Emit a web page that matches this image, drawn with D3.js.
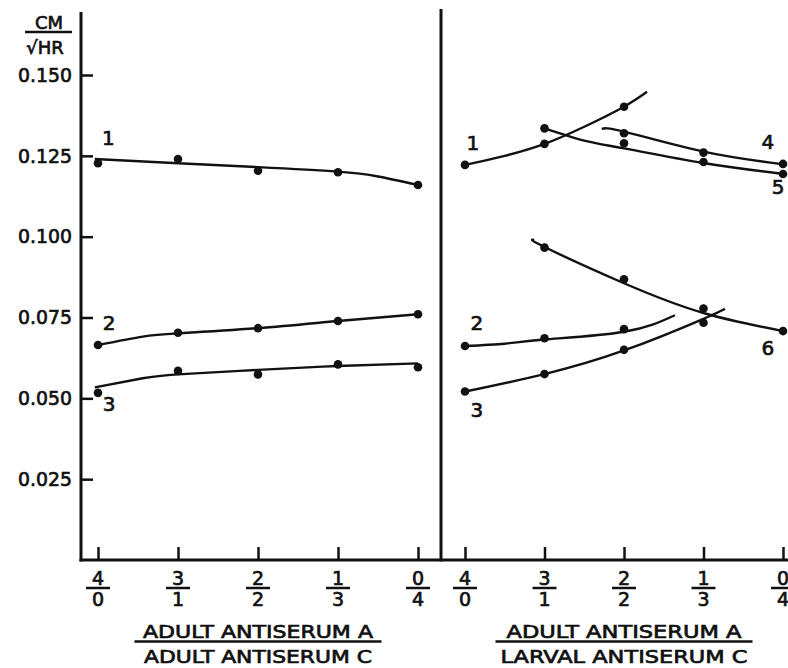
<!DOCTYPE html>
<html>
<head>
<meta charset="utf-8">
<script src="https://cdn.jsdelivr.net/npm/d3@7"></script>
<style>
  html, body { margin: 0; padding: 0; background: #ffffff; }
  svg { display: block; }
  text { font-family: "DejaVu Sans", sans-serif; fill: #111; }
  .heavy { stroke: #111; stroke-width: 0.7px; }
</style>
</head>
<body>
<svg id="chart" width="788" height="668"></svg>
<script>
// ---- data ----
// mixing ratios on both x axes (index 0..4)
const ratioNumer = ["4", "3", "2", "1", "0"];
const ratioDenom = ["0", "1", "2", "3", "4"];
const yTicks = [0.025, 0.050, 0.075, 0.100, 0.125, 0.150];

// left panel: adult A / adult C
const leftPoints1 = [0.1227, 0.1240, 0.1204, 0.1199, 0.1160];
const leftPoints2 = [0.0665, 0.0703, 0.0717, 0.0739, 0.0760];
const leftPoints3 = [0.0517, 0.0585, 0.0574, 0.0605, 0.0596];
// hand drawn curves, [ratio index, value]
const leftCurve1 = [[-0.04, 0.1240], [1, 0.1227], [2, 0.1215], [3, 0.1201], [3.5, 0.1186], [4, 0.1160]];
const leftCurve2 = [[0, 0.0665], [0.56, 0.0691], [1, 0.0701], [2, 0.0717], [3, 0.0739], [4, 0.0760]];
const leftCurve3 = [[-0.04, 0.0534], [0.56, 0.0562], [1, 0.0574], [2, 0.0588], [3, 0.0600], [4, 0.0608]];

// right panel: adult A / larval C  (points as [ratio index, value])
const rightPoints1 = [[0, 0.1222], [1, 0.1287], [2, 0.1402]];
const rightPoints2 = [[0, 0.0662], [1, 0.0686], [2, 0.0714]];
const rightPoints3 = [[0, 0.0521], [1, 0.0575], [2, 0.0650], [3, 0.0734]];
const rightPoints4 = [[2, 0.1320], [3, 0.1260], [4, 0.1225]];
const rightPoints5 = [[1, 0.1335], [2, 0.1289], [3, 0.1231], [4, 0.1194]];
const rightPoints6 = [[1, 0.0966], [2, 0.0868], [3, 0.0778], [4, 0.0708]];
const rightCurve1 = [[0, 0.1222], [0.5, 0.1250], [1, 0.1287], [1.5, 0.1340], [2, 0.1402], [2.29, 0.1448]];
const rightCurve2 = [[0, 0.0662], [0.5, 0.0669], [1, 0.0682], [2, 0.0706], [2.64, 0.0757]];
const rightCurve3 = [[0, 0.0521], [1, 0.0575], [2, 0.0648], [3, 0.0746], [3.27, 0.0777]];
const rightCurve4 = [[1.72, 0.1333], [2, 0.1325], [3, 0.1263], [4, 0.1224]];
const rightCurve5 = [[1, 0.1335], [1.5, 0.1297], [2, 0.1273], [3, 0.1228], [4, 0.1194]];
const rightCurve6 = [[0.87, 0.0990], [1, 0.0968], [2, 0.0856], [3, 0.0764], [4, 0.0708]];

// curve numbers, [ratio index, value, text]
const leftLabels = [[0.13, 0.1305, "1"], [0.14, 0.0733, "2"], [0.14, 0.0483, "3"]];
const rightLabels = [[0.10, 0.1290, "1"], [3.81, 0.1293, "4"], [3.94, 0.1154, "5"],
                     [0.15, 0.0733, "2"], [0.15, 0.0464, "3"], [3.81, 0.0656, "6"]];

const leftTitle = ["ADULT ANTISERUM A", "ADULT ANTISERUM C"];
const rightTitle = ["ADULT ANTISERUM A", "LARVAL ANTISERUM C"];

// ---- drawing ----
const svg = d3.select("#chart");
const ink = "#111";

const y = d3.scaleLinear().domain([0, 0.15]).range([560, 75]);
const xLeft = d3.scaleLinear().domain([0, 4]).range([98, 418]);
const xRight = d3.scaleLinear().domain([0, 4]).range([465, 783]);

const axisX = 81, dividerX = 441, axisTop = 12, dividerTop = 9;

// baseline for text centred on y (cap height of DejaVu ~0.73em)
const capBase = (cy, size) => cy + size * 0.365;

// left y axis with inward ticks
const yAxis = svg.append("g")
    .attr("transform", `translate(${axisX},0)`)
    .call(d3.axisLeft(y).tickValues(yTicks).tickSize(-12).tickFormat(d3.format(".3f")));
yAxis.select(".domain").remove();
yAxis.selectAll(".tick line").attr("stroke", ink).attr("stroke-width", 2.5);
yAxis.selectAll(".tick text")
    .attr("class", "heavy")
    .attr("x", -9)
    .attr("dy", null)
    .attr("y", capBase(0, 20) - 1)
    .attr("font-size", "20px")
    .attr("font-family", "DejaVu Sans, sans-serif")
    .attr("textLength", 54)
    .attr("lengthAdjust", "spacingAndGlyphs")
    .attr("fill", ink);

svg.append("line")
    .attr("x1", axisX).attr("x2", axisX)
    .attr("y1", axisTop).attr("y2", y(0) + 1.5)
    .attr("stroke", ink).attr("stroke-width", 3);

svg.append("line")
    .attr("x1", dividerX).attr("x2", dividerX)
    .attr("y1", dividerTop).attr("y2", y(0) + 1.5)
    .attr("stroke", ink).attr("stroke-width", 3);

// bottom axis line
svg.append("line")
    .attr("x1", axisX - 1.5).attr("x2", 788)
    .attr("y1", y(0)).attr("y2", y(0))
    .attr("stroke", ink).attr("stroke-width", 3);

// y axis title  CM / sqrt(HR)
svg.append("text")
    .attr("class", "heavy")
    .attr("x", 49).attr("y", capBase(22, 18))
    .attr("text-anchor", "middle").attr("font-size", "18px")
    .text("CM");
svg.append("line")
    .attr("x1", 25).attr("x2", 72).attr("y1", 32).attr("y2", 32)
    .attr("stroke", ink).attr("stroke-width", 2.5);
svg.append("text")
    .attr("class", "heavy")
    .attr("x", 45).attr("y", capBase(47, 18))
    .attr("text-anchor", "middle").attr("font-size", "18px")
    .text("√HR");

function drawPanel(x, pointsXY, curves, labels, title, titleWidth) {
    const g = svg.append("g");

    // x ticks pointing up into the plot
    const xa = g.append("g")
        .attr("transform", `translate(0,${y(0)})`)
        .call(d3.axisBottom(x).tickValues([0, 1, 2, 3, 4]).tickSize(-13).tickFormat(""));
    xa.select(".domain").remove();
    xa.selectAll(".tick line").attr("stroke", ink).attr("stroke-width", 2.5);

    // fraction tick labels
    const fr = g.selectAll(".frac")
        .data(d3.range(5))
        .join("g")
        .attr("class", "frac")
        .attr("transform", i => `translate(${x(i)},0)`);
    fr.append("text")
        .attr("class", "heavy")
        .attr("y", capBase(578, 19))
        .attr("text-anchor", "middle").attr("font-size", "19px")
        .text(i => ratioNumer[i]);
    fr.append("line")
        .attr("x1", -12).attr("x2", 12).attr("y1", 588).attr("y2", 588)
        .attr("stroke", ink).attr("stroke-width", 2.5);
    fr.append("text")
        .attr("class", "heavy")
        .attr("y", capBase(599, 19))
        .attr("text-anchor", "middle").attr("font-size", "19px")
        .text(i => ratioDenom[i]);

    // curves
    const line = d3.line()
        .x(d => x(d[0]))
        .y(d => y(d[1]))
        .curve(d3.curveNatural);
    g.selectAll(".curve")
        .data(curves)
        .join("path")
        .attr("class", "curve")
        .attr("fill", "none")
        .attr("stroke", ink)
        .attr("stroke-width", 2.4)
        .attr("d", line);

    // points
    g.selectAll(".pt")
        .data(pointsXY)
        .join("circle")
        .attr("class", "pt")
        .attr("cx", d => x(d[0]))
        .attr("cy", d => y(d[1]))
        .attr("r", 4.3)
        .attr("fill", ink);

    // curve numbers
    g.selectAll(".num")
        .data(labels)
        .join("text")
        .attr("class", "num heavy")
        .attr("x", d => x(d[0]))
        .attr("y", d => capBase(y(d[1]), 20))
        .attr("text-anchor", "middle")
        .attr("font-size", "20px")
        .text(d => d[2]);

    // axis title as a fraction
    const cx = (x(0) + x(4)) / 2;
    g.append("text")
        .attr("class", "heavy")
        .attr("x", cx).attr("y", capBase(631, 18))
        .attr("text-anchor", "middle").attr("font-size", "18px")
        .attr("textLength", titleWidth[0]).attr("lengthAdjust", "spacingAndGlyphs")
        .text(title[0]);
    g.append("line")
        .attr("x1", cx - titleWidth[2] / 2).attr("x2", cx + titleWidth[2] / 2)
        .attr("y1", 641.5).attr("y2", 641.5)
        .attr("stroke", ink).attr("stroke-width", 2.5);
    g.append("text")
        .attr("class", "heavy")
        .attr("x", cx).attr("y", capBase(656.5, 18))
        .attr("text-anchor", "middle").attr("font-size", "18px")
        .attr("textLength", titleWidth[1]).attr("lengthAdjust", "spacingAndGlyphs")
        .text(title[1]);
}

const toXY = arr => arr.map((v, i) => [i, v]);

drawPanel(xLeft,
    [...toXY(leftPoints1), ...toXY(leftPoints2), ...toXY(leftPoints3)],
    [leftCurve1, leftCurve2, leftCurve3],
    leftLabels, leftTitle, [230, 228, 247]);

drawPanel(xRight,
    [...rightPoints1, ...rightPoints2, ...rightPoints3, ...rightPoints4, ...rightPoints5, ...rightPoints6],
    [rightCurve1, rightCurve2, rightCurve3, rightCurve4, rightCurve5, rightCurve6],
    rightLabels, rightTitle, [235, 247, 257]);
</script>
</body>
</html>
